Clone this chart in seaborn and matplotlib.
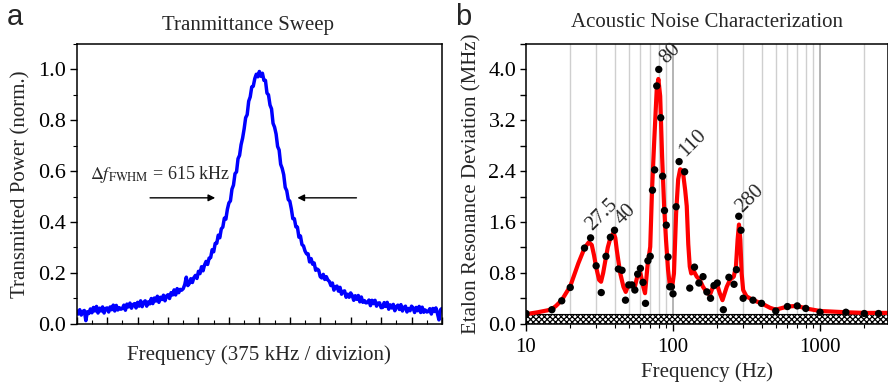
import numpy as np
import pandas as pd
import matplotlib
matplotlib.use("Agg")
import matplotlib.pyplot as plt
from matplotlib.ticker import MultipleLocator, NullFormatter, FixedLocator, FixedFormatter
import seaborn as sns

sns.set_style("ticks")
plt.rcParams["font.family"] = ["Liberation Serif", "DejaVu Serif"]
plt.rcParams["mathtext.fontset"] = "stix"
plt.rcParams["hatch.linewidth"] = 0.9
plt.rcParams["axes.edgecolor"] = "black"
plt.rcParams["xtick.color"] = "black"
plt.rcParams["ytick.color"] = "black"

# ---------------- panel a: transmitted power, one sample every 0.05 division
sweep_step = 0.05
sweep_power = [
    0.050, 0.038, 0.055, 0.034, 0.048, 0.052, 0.012, 0.047, 0.040, 0.058,
    0.043, 0.064, 0.050, 0.068, 0.042, 0.061, 0.050, 0.066, 0.042, 0.060,
    0.062, 0.046, 0.066, 0.055, 0.073, 0.050, 0.072, 0.054, 0.063, 0.057,
    0.060, 0.073, 0.053, 0.077, 0.066, 0.081, 0.061, 0.075, 0.079, 0.062,
    0.084, 0.069, 0.090, 0.067, 0.084, 0.090, 0.069, 0.086, 0.078, 0.099,
    0.079, 0.101, 0.089, 0.108, 0.084, 0.104, 0.095, 0.112, 0.090, 0.109,
    0.114, 0.099, 0.122, 0.113, 0.133, 0.113, 0.138, 0.122, 0.135, 0.132,
    0.138, 0.154, 0.183, 0.150, 0.158, 0.177, 0.162, 0.181, 0.190, 0.178,
    0.206, 0.197, 0.224, 0.208, 0.231, 0.245, 0.233, 0.258, 0.260, 0.291,
    0.283, 0.316, 0.316, 0.348, 0.338, 0.373, 0.380, 0.415, 0.411, 0.450,
    0.475, 0.483, 0.529, 0.545, 0.590, 0.597, 0.649, 0.662, 0.704, 0.730,
    0.766, 0.810, 0.822, 0.875, 0.892, 0.931, 0.934, 0.964, 0.981, 0.971,
    0.992,
    0.973, 0.985, 0.957, 0.957, 0.907, 0.900, 0.860, 0.845, 0.788, 0.773,
    0.746, 0.697, 0.683, 0.627, 0.611, 0.586, 0.536, 0.523, 0.488, 0.482,
    0.452, 0.413, 0.413, 0.381, 0.380, 0.340, 0.345, 0.311, 0.306, 0.286,
    0.275, 0.275, 0.243, 0.256, 0.234, 0.239, 0.210, 0.215, 0.210, 0.185,
    0.180, 0.194, 0.174, 0.185, 0.172, 0.166, 0.150, 0.160, 0.132, 0.145,
    0.148, 0.128, 0.143, 0.116, 0.127, 0.129, 0.104, 0.116, 0.104, 0.121,
    0.111, 0.092, 0.110, 0.096, 0.111, 0.086, 0.105, 0.084, 0.091, 0.082,
    0.083, 0.093, 0.071, 0.092, 0.079, 0.092, 0.069, 0.081, 0.082, 0.063,
    0.064, 0.083, 0.068, 0.084, 0.057, 0.074, 0.062, 0.076, 0.051, 0.067,
    0.073, 0.056, 0.075, 0.050, 0.064, 0.069, 0.046, 0.060, 0.051, 0.069,
    0.062, 0.044, 0.064, 0.051, 0.068, 0.044, 0.065, 0.045, 0.054, 0.046,
    0.048, 0.059, 0.038, 0.060, 0.048, 0.062, 0.040, 0.015, 0.055, 0.060,
]
sweep_div = np.arange(len(sweep_power)) * sweep_step
fwhm_text = r"$\Delta f_{\mathrm{FWHM}}$ = 615 kHz"

# ---------------- panel b: etalon resonance deviation vs. acoustic frequency
noise_freq = [10, 15, 17.5, 20, 25, 27.5, 30, 32.5, 35, 37.5, 40, 42.5, 45, 47.5,
              50, 52.5, 55, 57.5, 60, 62.5, 65, 67.5, 70, 72.5, 75, 77.5, 80,
              82.5, 85, 87.5, 90, 92.5, 95, 97.5, 100, 105, 110, 120, 130, 140,
              150, 160, 170, 180, 190, 200, 220, 240, 260, 270, 280, 290, 300,
              350, 400, 500, 600, 700, 800, 1000, 1500, 2000, 2500]
noise_dev = [0.16, 0.22, 0.36, 0.57, 1.19, 1.35, 0.91, 0.49, 1.06, 1.36, 1.47, 0.86,
             0.84, 0.37, 0.61, 0.61, 0.53, 0.78, 0.87, 0.65, 0.32, 0.99, 1.06,
             2.10, 2.42, 3.74, 4.00, 3.24, 2.32, 1.78, 1.55, 1.05, 0.58, 0.58,
             0.47, 1.84, 2.55, 2.39, 0.56, 0.89, 0.64, 0.74, 0.50, 0.40, 0.60,
             0.64, 0.22, 0.73, 0.62, 0.85, 1.69, 1.47, 0.40, 0.37, 0.32, 0.20,
             0.27, 0.28, 0.24, 0.18, 0.18, 0.16, 0.16]

fit_freq = [10, 12, 14, 15, 16, 17.5, 20, 22.7, 25, 26.7, 28, 29, 30, 31.4, 32.4,
            33.5, 34.7, 36, 37.3, 39.4, 40.5, 41.5, 43.7, 46, 47.7, 49.7, 53, 55,
            57.5, 60, 62.8, 64.5, 67, 70, 72, 74.6, 77.5, 79.5, 81.8, 84.3, 87,
            89.6, 92.5, 95.4, 98.4, 101.5, 105, 108.4, 111.8, 116.6, 121, 124,
            127, 130, 133, 139, 145, 152, 160, 169, 178, 187, 198, 208, 217, 232,
            244, 259, 268, 275, 281, 287, 293, 300, 316, 351, 400, 457, 500, 600,
            700, 800, 1000, 1500, 2000, 2900]
fit_dev = [0.15, 0.18, 0.21, 0.23, 0.28, 0.37, 0.59, 0.95, 1.19, 1.28, 1.24, 1.08,
           0.89, 0.69, 0.66, 0.80, 1.00, 1.20, 1.33, 1.43, 1.35, 1.15, 0.80, 0.58,
           0.50, 0.61, 0.61, 0.58, 0.77, 0.80, 0.58, 0.48, 0.90, 1.21, 2.11, 2.90,
           3.69, 3.85, 3.58, 2.63, 1.85, 1.32, 0.85, 0.58, 0.56, 0.79, 1.74, 2.27,
           2.43, 2.40, 2.10, 1.85, 1.25, 0.90, 0.79, 0.82, 0.74, 0.69, 0.58, 0.50,
           0.45, 0.58, 0.64, 0.48, 0.37, 0.58, 0.69, 0.74, 0.90, 1.32, 1.56, 1.32,
           0.79, 0.53, 0.43, 0.37, 0.32, 0.25, 0.22, 0.27, 0.28, 0.24, 0.20, 0.18,
           0.17, 0.17]

noise_floor = 0.16
peak_freq = [27.5, 40, 80, 110, 280]
peak_text = ["27.5", "40", "80", "110", "280"]

sweep_df = pd.DataFrame({"div": sweep_div, "power": sweep_power})
noise_df = pd.DataFrame({"freq": noise_freq, "dev": noise_dev})
fit_df = pd.DataFrame({"freq": fit_freq, "dev": fit_dev})

W, H = 888, 388
fig = plt.figure(figsize=(W / 100, H / 100), dpi=100)
ax_bot, ax_top = 323.7, 44.0
axA = fig.add_axes([76.7 / W, 1 - ax_bot / H, (442 - 76.7) / W, (ax_bot - ax_top) / H])
axB = fig.add_axes([526 / W, 1 - ax_bot / H, (888 - 526) / W, (ax_bot - ax_top) / H])

FS = 15

# ---- panel a
sns.lineplot(data=sweep_df, x="div", y="power", ax=axA, color="#0000ff",
             lw=2.5, estimator=None, sort=False)
axA.set_xlim(0, 12)
axA.set_ylim(0, 1.1)
axA.xaxis.set_major_locator(MultipleLocator(1))
axA.xaxis.set_minor_locator(MultipleLocator(0.5))
axA.yaxis.set_major_locator(MultipleLocator(0.2))
axA.yaxis.set_minor_locator(MultipleLocator(0.1))
axA.yaxis.set_major_formatter(plt.FuncFormatter(lambda v, p: f"{v:.1f}"))
axA.tick_params(axis="x", which="major", direction="in", length=5, width=1, labelbottom=False)
axA.tick_params(axis="x", which="minor", direction="in", length=3, width=0.8)
axA.tick_params(axis="y", which="major", direction="out", length=5, width=1, labelsize=FS + 1, pad=3)
axA.tick_params(axis="y", which="minor", direction="out", length=3, width=0.8)
axA.set_xlabel("Frequency (375 kHz / divizion)", fontsize=FS, labelpad=12)
axA.set_ylabel("Transmitted Power (norm.)", fontsize=FS, labelpad=5)
axA.text(0.469, 1 + 14 / (ax_bot - ax_top), "Tranmittance Sweep", transform=axA.transAxes,
         ha="center", va="baseline", fontsize=FS)
axA.text(0.44, 0.569, fwhm_text, fontsize=13, ha="left", va="baseline")
axA.annotate("", xy=(4.55, 0.495), xytext=(2.41, 0.495),
             arrowprops=dict(arrowstyle="-|>", color="black", lw=1, mutation_scale=10,
                             shrinkA=0, shrinkB=0))
axA.annotate("", xy=(7.25, 0.495), xytext=(9.19, 0.495),
             arrowprops=dict(arrowstyle="-|>", color="black", lw=1, mutation_scale=10,
                             shrinkA=0, shrinkB=0))
for s in axA.spines.values():
    s.set_linewidth(1.1)

# ---- panel b
axB.set_xscale("log")
axB.set_xlim(10, 2900)
axB.set_ylim(0, 4.4)
grid_minor = [m * 10 ** e for e in (1, 2, 3) for m in range(2, 10) if m * 10 ** e < 2900]
for g in grid_minor:
    axB.axvline(g, color="#cfcfcf", lw=1.0, zorder=0)
for g in (100, 1000):
    axB.axvline(g, color="#a8a8a8", lw=1.2, zorder=0)
axB.axhspan(0, noise_floor, facecolor="white", edgecolor="black", hatch="xxxxxx",
            lw=0.8, zorder=1)
sns.lineplot(data=fit_df, x="freq", y="dev", ax=axB, color="#ff0000", lw=3.0,
             estimator=None, sort=False, zorder=2)
sns.scatterplot(data=noise_df, x="freq", y="dev", ax=axB, color="black", s=28,
                edgecolor="none", zorder=3)
label_offsets = [(11, 23), (11, 16), (12, 16), (14, 19), (11, 17)]
for f, t, (dx, dy) in zip(peak_freq, peak_text, label_offsets):
    v = noise_dev[noise_freq.index(f)]
    axB.annotate(t, xy=(f, v), xytext=(dx, dy), textcoords="offset pixels",
                 rotation=45, ha="center", va="center", fontsize=FS, zorder=4)
axB.xaxis.set_major_locator(FixedLocator([10, 100, 1000]))
axB.xaxis.set_major_formatter(FixedFormatter(["10", "100", "1000"]))
axB.xaxis.set_minor_locator(FixedLocator(grid_minor))
axB.xaxis.set_minor_formatter(NullFormatter())
axB.yaxis.set_major_locator(MultipleLocator(0.8))
axB.yaxis.set_minor_locator(MultipleLocator(0.4))
axB.yaxis.set_major_formatter(plt.FuncFormatter(lambda v, p: f"{v:.1f}"))
axB.tick_params(axis="x", which="major", direction="out", length=5, width=1, labelsize=FS, pad=5)
axB.tick_params(axis="x", which="minor", direction="out", length=3, width=0.8)
axB.tick_params(axis="y", which="both", direction="out", length=4, width=1, labelsize=FS + 1, pad=3)
axB.set_xlabel("Frequency (Hz)", fontsize=FS, labelpad=4)
axB.set_ylabel("Etalon Resonance Deviation (MHz)", fontsize=FS, labelpad=5)
axB.set_title("Acoustic Noise Characterization", fontsize=FS, pad=12)
for s in axB.spines.values():
    s.set_linewidth(1.1)

fig.text(7 / W, 1 - 25 / H, "a", fontsize=21, family="Liberation Sans", va="baseline")
fig.text(455 / W, 1 - 25 / H, "b", fontsize=21, family="Liberation Sans", va="baseline")

fig.savefig("out.png", dpi=100)
